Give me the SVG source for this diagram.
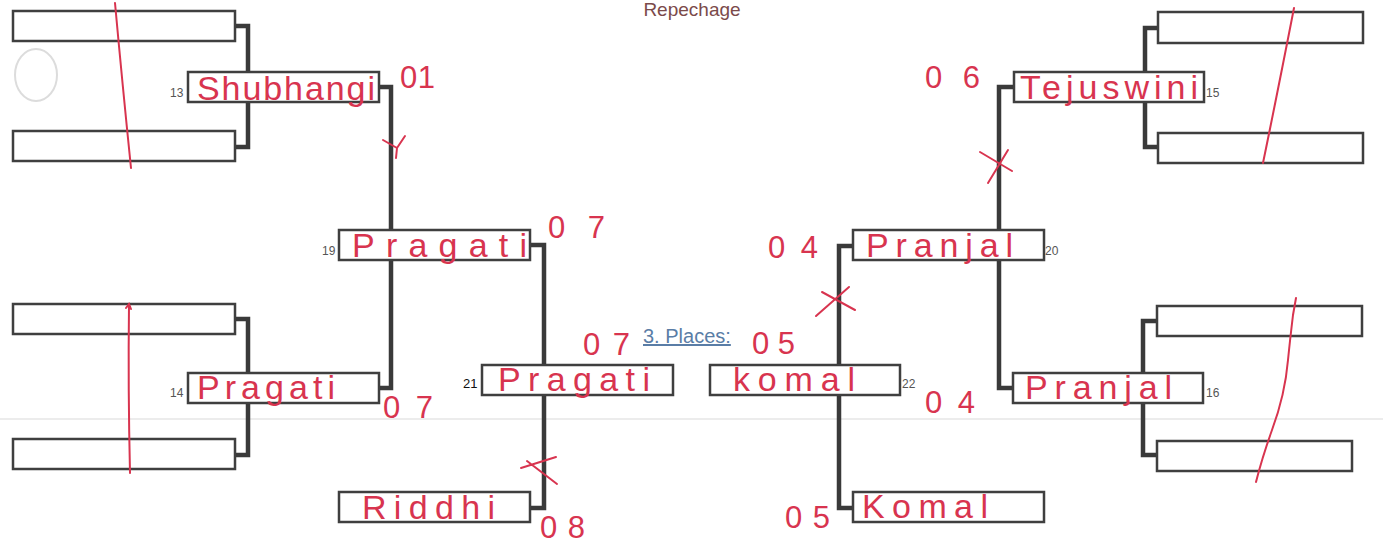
<svg xmlns="http://www.w3.org/2000/svg" width="1383" height="551" viewBox="0 0 1383 551">
<style>
.box{fill:#fff;stroke:#3f3f3f;stroke-width:2.5}
.con{fill:none;stroke:#3a3a3a;stroke-width:4.5;stroke-linejoin:miter}
.num{font-family:"Liberation Sans",Arial,sans-serif;font-size:12px;fill:#555}
.hw{font-family:"Liberation Sans",Arial,sans-serif;font-size:34px;fill:#d8344f}
.hn{font-family:"Liberation Sans",Arial,sans-serif;font-size:31px;fill:#d8344f}
.mark{fill:none;stroke:#d8344f;stroke-width:2;stroke-linecap:round}
</style>
<rect width="1383" height="551" fill="#fff"/>
<line x1="0" y1="419" x2="1383" y2="419" stroke="#ececec" stroke-width="2"/>
<ellipse cx="36" cy="75" rx="21" ry="26" fill="none" stroke="#dcdcdc" stroke-width="2"/>
<text x="692" y="16" text-anchor="middle" font-family="Liberation Sans,Arial,sans-serif" font-size="19" fill="#7b4a4a">Repechage</text>

<g id="connectors">
<path class="con" d="M235 26 H248 V147 H235"/>
<path class="con" d="M235 319 H248 V455 H235"/>
<path class="con" d="M379 87 H391 V388 H379"/>
<path class="con" d="M530 245 H544 V508 H530"/>
<path class="con" d="M1158 28 H1145 V147 H1158"/>
<path class="con" d="M1157 321 H1143 V455 H1157"/>
<path class="con" d="M1014 87 H999 V388 H1012"/>
<path class="con" d="M853 246 H839 V508 H853"/>
</g>

<g id="r1a"><rect class="box" x="13" y="11" width="222" height="30"/></g>
<g id="r1b"><rect class="box" x="13" y="131" width="222" height="30"/></g>
<g id="r1c"><rect class="box" x="13" y="304" width="222" height="30"/></g>
<g id="r1d"><rect class="box" x="13" y="439" width="222" height="30"/></g>
<g id="r1e"><rect class="box" x="1158" y="12" width="205" height="31"/></g>
<g id="r1f"><rect class="box" x="1158" y="133" width="205" height="30"/></g>
<g id="r1g"><rect class="box" x="1157" y="306" width="205" height="30"/></g>
<g id="r1h"><rect class="box" x="1157" y="441" width="195" height="30"/></g>

<g id="m13"><rect class="box" x="188" y="72" width="191" height="30"/><text class="num" x="170" y="97">13</text><text class="hw" x="197" y="100" textLength="178" lengthAdjust="spacing">Shubhangi</text></g>
<g id="m14"><rect class="box" x="188" y="373" width="191" height="30"/><text class="num" x="170" y="397">14</text><text class="hw" x="197" y="399" textLength="138" lengthAdjust="spacing">Pragati</text></g>
<g id="m19"><rect class="box" x="339" y="230" width="191" height="30"/><text class="num" x="322" y="255">19</text><text class="hw" x="352" y="257" textLength="175" lengthAdjust="spacing">Pragati</text></g>
<g id="m21"><rect class="box" x="482" y="365" width="191" height="30"/><text x="463" y="388" font-family="Liberation Sans,Arial,sans-serif" font-size="13" fill="#111">21</text><text class="hw" x="498" y="391" textLength="152" lengthAdjust="spacing">Pragati</text></g>
<g id="mRiddhi"><rect class="box" x="339" y="492" width="191" height="30"/><text class="hw" x="362" y="519" textLength="133" lengthAdjust="spacing">Riddhi</text></g>
<g id="m15"><rect class="box" x="1014" y="72" width="190" height="30"/><text class="num" x="1206" y="97">15</text><text class="hw" x="1020" y="99" textLength="178" lengthAdjust="spacing">Tejuswini</text></g>
<g id="m16"><rect class="box" x="1013" y="373" width="190" height="30"/><text class="num" x="1206" y="397">16</text><text class="hw" x="1025" y="399" textLength="147" lengthAdjust="spacing">Pranjal</text></g>
<g id="m20"><rect class="box" x="853" y="230" width="191" height="30"/><text class="num" x="1045" y="255">20</text><text class="hw" x="866" y="257" textLength="147" lengthAdjust="spacing">Pranjal</text></g>
<g id="m22"><rect class="box" x="710" y="365" width="190" height="30"/><text class="num" x="902" y="388">22</text><text class="hw" x="733" y="391" textLength="122" lengthAdjust="spacing">komal</text></g>
<g id="mKomal"><rect class="box" x="853" y="492" width="191" height="30"/><text class="hw" x="862" y="518" textLength="126" lengthAdjust="spacing">Komal</text></g>

<g id="places"><text x="643" y="343" font-family="Liberation Sans,Arial,sans-serif" font-size="20" fill="#5a7da6" text-decoration="underline">3. Places:</text></g>

<g id="scores">
<text class="hn" x="400" y="88" textLength="35" lengthAdjust="spacing">01</text>
<text class="hn" x="548" y="238" textLength="57" lengthAdjust="spacing">07</text>
<text class="hn" x="583" y="355" font-size="28" textLength="47" lengthAdjust="spacing">07</text>
<text class="hn" x="383" y="418" textLength="50" lengthAdjust="spacing">07</text>
<text class="hn" x="540" y="538" textLength="45" lengthAdjust="spacing">08</text>
<text class="hn" x="925" y="88" textLength="55" lengthAdjust="spacing">06</text>
<text class="hn" x="768" y="258" textLength="50" lengthAdjust="spacing">04</text>
<text class="hn" x="752" y="354" textLength="43" lengthAdjust="spacing">05</text>
<text class="hn" x="925" y="413" textLength="50" lengthAdjust="spacing">04</text>
<text class="hn" x="785" y="528" textLength="45" lengthAdjust="spacing">05</text>
</g>

<g id="marks">
<path class="mark" d="M115 3 Q122 80 131 168"/>
<path class="mark" d="M126 308 L129 304 L131 309 M129 304 Q128 390 130 473"/>
<path class="mark" d="M1294 8 Q1278 90 1263 163"/>
<path class="mark" d="M1296 298 L1293 315 Q1290 340 1288 360 Q1285 395 1272 430 Q1262 458 1256 482"/>
<path class="mark" d="M383 140 L397 148 L405 136 M397 148 L396 158"/>
<path class="mark" d="M521 468 L556 457 M527 461 L557 484"/>
<path class="mark" d="M816 316 L849 287 M822 292 L855 310"/>
<path class="mark" d="M980 152 L1012 171 M1008 150 L988 183"/>
</g>
</svg>
